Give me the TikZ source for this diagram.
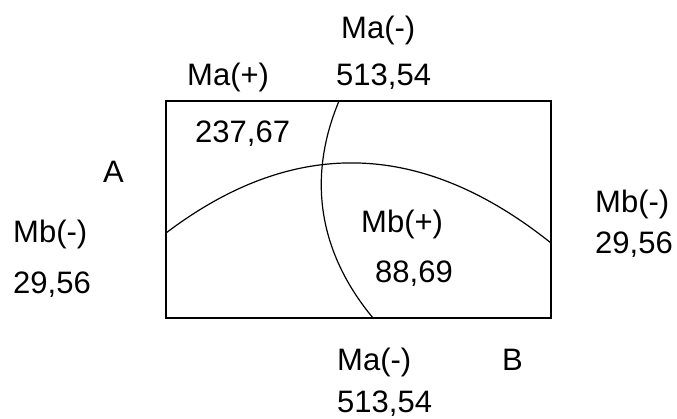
\documentclass[tikz,border=0pt]{standalone}
\usepackage{fontspec}
\setmainfont{Liberation Sans}
\usetikzlibrary{positioning}

\begin{document}
\begin{tikzpicture}[x=1pt, y=-1pt,
      lbl/.style={font=\fontsize{31}{37}\selectfont, inner sep=0pt, anchor=base west},
      edge/.style={line width=1.2pt, black}
    ]
      \useasboundingbox (0,0) rectangle (677,418);

      % slab outline
      \draw[edge] (166,101) rectangle (551,318);
      \coordinate (mbL) at (166,233);
      \coordinate (mbR) at (551,243);
      \coordinate (maT) at (339,101);
      \coordinate (maB) at (373,318);

      % moment curves
      \draw[edge] (mbL) .. controls (294,136) and (422,140) .. (mbR);
      \draw[edge] (maT) .. controls (306,180) and (320,254) .. (maB);

      % labels
      \node[lbl] (maTop)   at (341,38)  {Ma(-)};
      \node[lbl] (maTopV)  at (336,85)  {513,54};
      \node[lbl] (maPos)   at (187,85)  {Ma(+)};
      \node[lbl] (maPosV)  at (195,142) {237,67};
      \node[lbl] (ptA)     at (103,182) {A};
      \node[lbl] (mbLeft)  at (13,242)  {Mb(-)};
      \node[lbl] (mbLeftV) at (13,293)  {29,56};
      \node[lbl] (mbPos)   at (361,232) {Mb(+)};
      \node[lbl] (mbPosV)  at (375,282) {88,69};
      \node[lbl] (maBot)   at (337,370) {Ma(-)};
      \node[lbl] (ptB)     at (502,370) {B};
      \node[lbl] (maBotV)  at (337,412) {513,54};
      \node[lbl] (mbRight) at (595,212) {Mb(-)};
      \node[lbl] (mbRightV) at (595,253) {29,56};
    \end{tikzpicture}
\end{document}
